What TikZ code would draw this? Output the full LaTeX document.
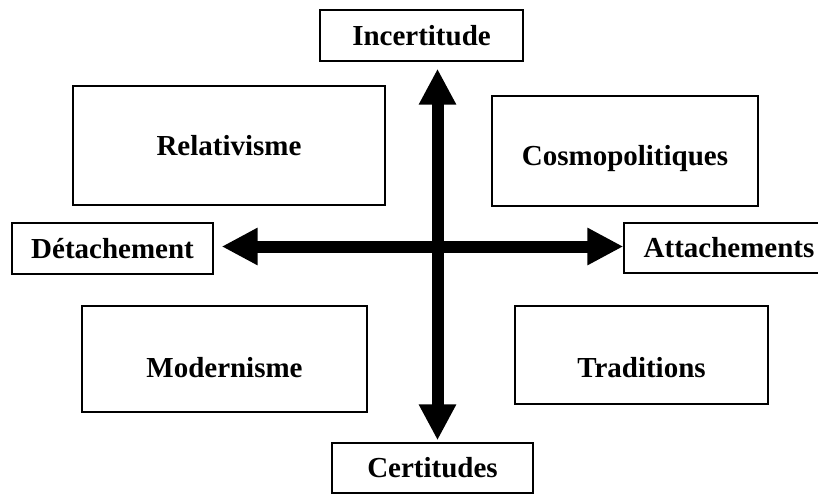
\documentclass[tikz,border=0pt]{standalone}
\usepackage{fontspec}
\setmainfont{Liberation Serif}
\usepackage{tikz}
\usetikzlibrary{arrows.meta}

\tikzset{
    quadbox/.style={draw, line width=0.8pt, inner sep=0pt, align=center,
        font=\bfseries\fontsize{16.5}{19}\selectfont},
    axisarrow/.style={line width=0.24cm,
        {Triangle[length=0.72cm,width=0.7cm]}-{Triangle[length=0.72cm,width=0.7cm]}}
}

\begin{document}
\begin{tikzpicture}[x=0.02cm,y=-0.02cm]
    \useasboundingbox (0,0) rectangle (818,494);

    % Axis ends
    \node[quadbox, minimum width=4.06cm, minimum height=1.02cm] (incert) at (421.5,35.5) {Incertitude};
    \node[quadbox, minimum width=4.02cm, minimum height=1.0cm] (cert) at (432.5,468) {Certitudes};
    \node[quadbox, minimum width=4.02cm, minimum height=1.02cm] (detach) at (112.5,248.5) {Détachement};
    \node[quadbox, minimum width=4.2cm, minimum height=1.0cm] (attach) at (729,248) {Attachements};

    % Quadrants
    \node[quadbox, minimum width=6.24cm, minimum height=2.38cm] (relat) at (229,145.5) {Relativisme};
    \node[quadbox, minimum width=5.32cm, minimum height=2.2cm, text height=0.56cm, text depth=0cm] (cosmo) at (625,151) {Cosmopolitiques};
    \node[quadbox, minimum width=5.7cm, minimum height=2.12cm, text height=0.72cm, text depth=0cm] (modern) at (224.5,359) {Modernisme};
    \node[quadbox, minimum width=5.06cm, minimum height=1.96cm, text height=0.88cm, text depth=0cm] (trad) at (641.5,355) {Traditions};

    % Draw the two axes
    \coordinate (mid) at (437.5,246.5);
    \draw[axisarrow, shorten <=0.04cm, shorten >=0.14cm] (mid |- cert.north) -- (mid |- incert.south);
    \draw[axisarrow, shorten <=0.16cm] (mid -| detach.east) -- (mid -| attach.west);
\end{tikzpicture}
\end{document}
